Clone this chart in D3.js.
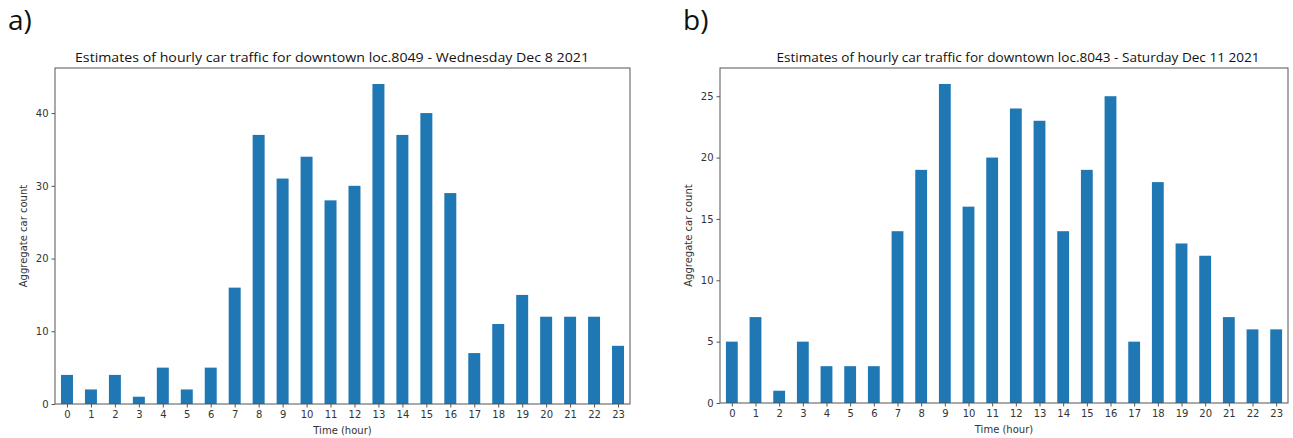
<!DOCTYPE html>
<html>
<head>
<meta charset="utf-8">
<script src="https://cdn.jsdelivr.net/npm/d3@7"></script>
<style>
  body { margin: 0; background: #fff; }
  svg { display: block; }
  .tick text { font-family: "DejaVu Sans", sans-serif; fill: #333; }
  .domain { display: none; }
</style>
</head>
<body>
<svg id="chart" width="1293" height="438"></svg>
<script>
// hours on the x axis
var hours = d3.range(0, 24);

// panel a) Wednesday Dec 8 2021, loc.8049
var wedCounts = [4, 2, 4, 1, 5, 2, 5, 16, 37, 31, 34, 28, 30, 44, 37, 40, 29, 7, 11, 15, 12, 12, 12, 8];
var wedTicks = [0, 10, 20, 30, 40];

// panel b) Saturday Dec 11 2021, loc.8043
var satCounts = [5, 7, 1, 5, 3, 3, 3, 14, 19, 26, 16, 20, 24, 23, 14, 19, 25, 5, 18, 13, 12, 7, 6, 6];
var satTicks = [0, 5, 10, 15, 20, 25];

var panels = [
    {tag: 'a)', title: 'Estimates of hourly car traffic for downtown loc.8049 - Wednesday Dec 8 2021',
     values: wedCounts, ticks: wedTicks, left: 55, right: 630, top: 68, bottom: 404, tagX: 8,
     titleX: 332, titleW: 514},
    {tag: 'b)', title: 'Estimates of hourly car traffic for downtown loc.8043 - Saturday Dec 11 2021',
     values: satCounts, ticks: satTicks, left: 720, right: 1288, top: 68, bottom: 403, tagX: 683,
     titleX: 1018, titleW: 483}
];

var svg = d3.select('#chart');
var barColor = '#1f77b4';
var spine = '#555';

panels.forEach(function(p) {
    var g = svg.append('g');

    // matplotlib style: x limits -0.5 .. n-0.5, bars half a unit wide
    var x = d3.scaleLinear()
        .domain([-0.5, hours.length - 0.5])
        .range([p.left, p.right]);

    var yMax = d3.max(p.values) * 1.05;
    var y = d3.scaleLinear()
        .domain([0, yMax])
        .range([p.bottom, p.top]);

    g.selectAll('rect.bar')
        .data(p.values)
        .enter().append('rect')
        .attr('class', 'bar')
        .attr('x', function(d, i) { return x(hours[i] - 0.25); })
        .attr('width', x(0.25) - x(-0.25))
        .attr('y', function(d) { return y(d); })
        .attr('height', function(d) { return y(0) - y(d); })
        .attr('fill', barColor);

    // frame
    g.append('rect')
        .attr('x', p.left)
        .attr('y', p.top)
        .attr('width', p.right - p.left)
        .attr('height', p.bottom - p.top)
        .attr('fill', 'none')
        .attr('stroke', spine)
        .attr('stroke-width', 1);

    var xAxis = g.append('g')
        .attr('transform', 'translate(0,' + p.bottom + ')')
        .call(d3.axisBottom(x).tickValues(hours).tickSize(3.5).tickPadding(3));
    xAxis.selectAll('text').style('font-size', '10px');
    xAxis.selectAll('line').attr('stroke', spine);

    var yAxis = g.append('g')
        .attr('transform', 'translate(' + p.left + ',0)')
        .call(d3.axisLeft(y).tickValues(p.ticks).tickSize(3.5).tickPadding(3));
    yAxis.selectAll('text').style('font-size', '10px');
    yAxis.selectAll('line').attr('stroke', spine);

    // title
    g.append('text')
        .attr('x', p.titleX)
        .attr('y', p.top - 6)
        .attr('text-anchor', 'middle')
        .style('font-family', '"Open Sans", sans-serif')
        .style('font-size', '12px')
        .attr('textLength', p.titleW)
        .attr('lengthAdjust', 'spacingAndGlyphs')
        .attr('fill', '#111')
        .text(p.title);

    // axis labels
    g.append('text')
        .attr('x', (p.left + p.right) / 2)
        .attr('y', p.bottom + 30)
        .attr('text-anchor', 'middle')
        .style('font-family', '"DejaVu Sans", sans-serif')
        .style('font-size', '10px')
        .attr('fill', '#333')
        .text('Time (hour)');

    g.append('text')
        .attr('transform', 'translate(' + (p.left - 28) + ',' + ((p.top + p.bottom) / 2) + ') rotate(-90)')
        .attr('text-anchor', 'middle')
        .style('font-family', '"DejaVu Sans", sans-serif')
        .style('font-size', '10px')
        .attr('fill', '#333')
        .text('Aggregate car count');

    // panel tag
    g.append('text')
        .attr('x', p.tagX)
        .attr('y', 30)
        .style('font-family', '"Open Sans", sans-serif')
        .style('font-size', '28px')
        .attr('fill', '#111')
        .text(p.tag);
});
</script>
</body>
</html>
